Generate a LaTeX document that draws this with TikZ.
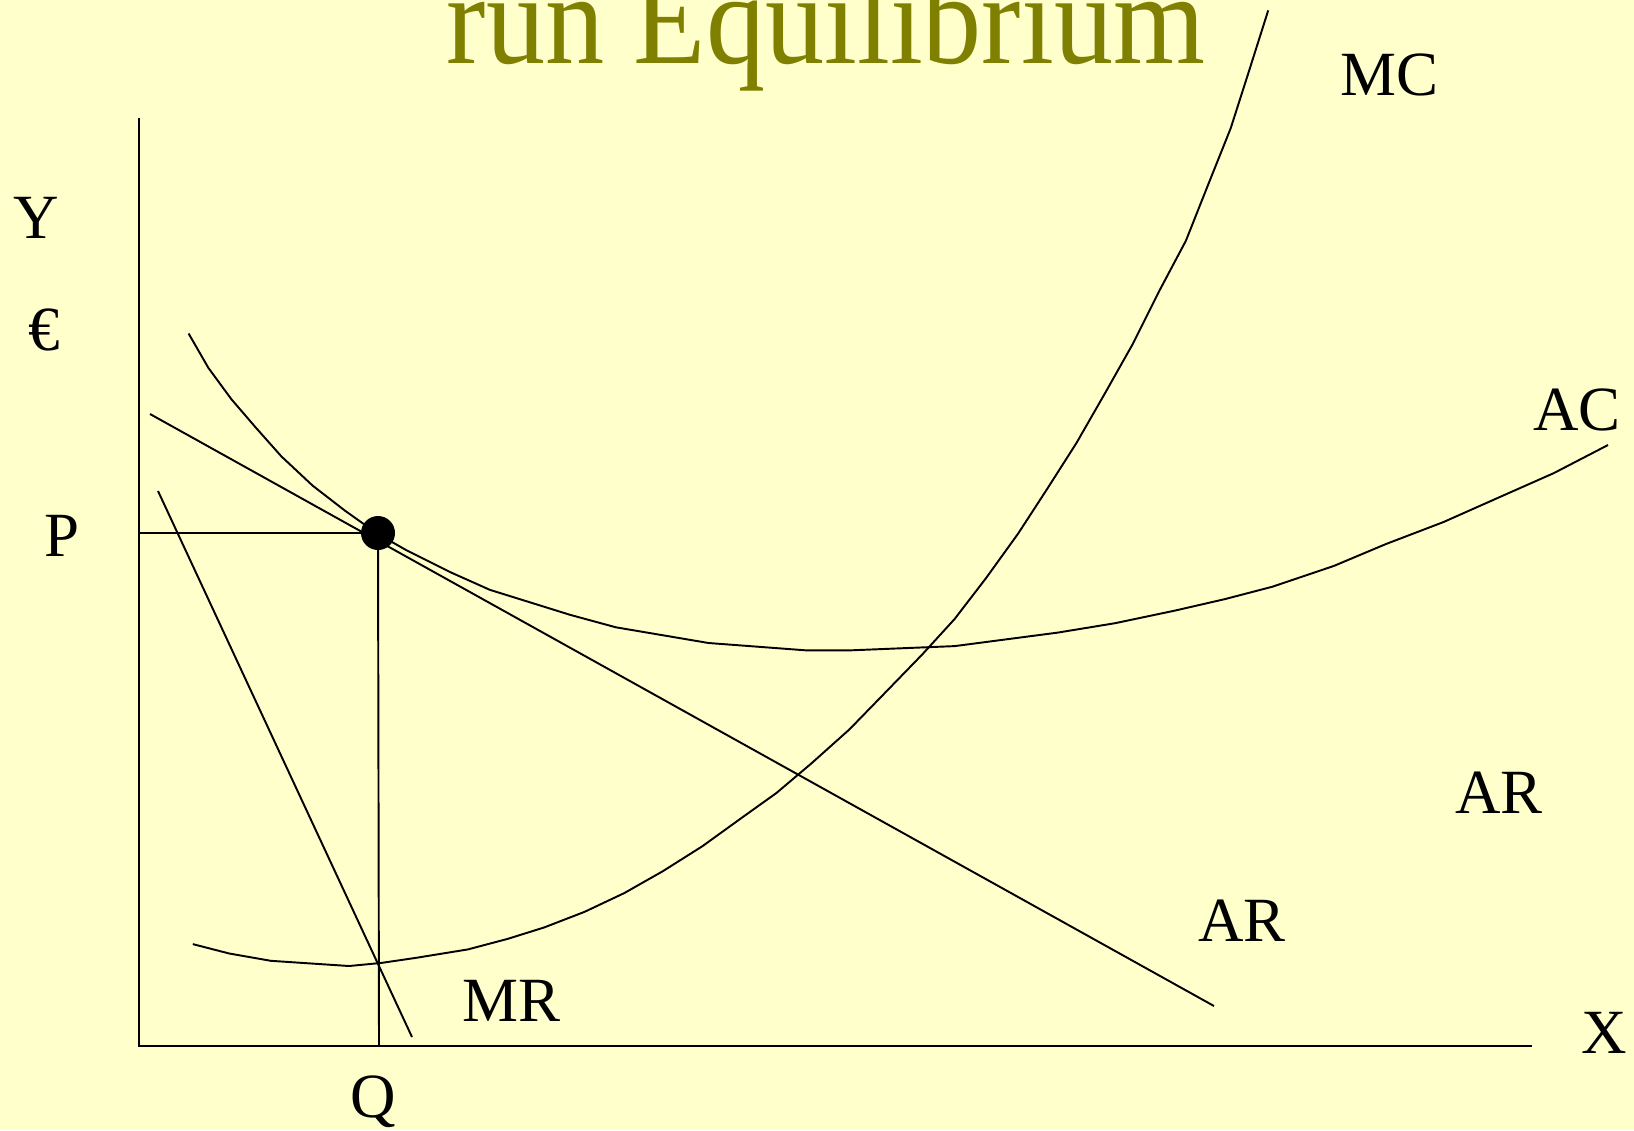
\documentclass[tikz,border=0pt]{standalone}
\usepackage{fontspec}
\setmainfont{Liberation Serif}
\definecolor{bgyellow}{HTML}{FFFFCC}
\definecolor{titleolive}{HTML}{808000}
\begin{document}
\begin{tikzpicture}[x=0.01cm,y=-0.01cm,
  curve/.style={line width=0.55pt, black, line join=round},
  axisline/.style={line width=0.7pt, black},
  lbl/.style={anchor=base, inner sep=0pt, font=\fontsize{17.9pt}{20pt}\selectfont},
  titletext/.style={anchor=base, inner sep=0pt, text=titleolive, font=\fontsize{33.6pt}{36pt}\selectfont}]
\fill[bgyellow] (0,0) rectangle (1634,1130);
\useasboundingbox (0,0) rectangle (1634,1130);
% title (cut off at the top edge, as in the reference)
\begin{scope}
\clip (0,0) rectangle (1634,1130);
\node[titletext] (title) at (826,63) {\scalebox{1}[1.1]{run Equilibrium}};
\end{scope}
% coordinates
\coordinate (O) at (139,1046);
\coordinate (ytop) at (139,118);
\coordinate (xend) at (1532,1046);
\coordinate (E) at (378,533);
\coordinate (Pleft) at (139,533);
\coordinate (Qfoot) at (379,1046);
\coordinate (ARs) at (150,414);
\coordinate (ARe) at (1214,1006);
\coordinate (MRs) at (158,491);
\coordinate (MRe) at (412,1037);
% axes
\draw[axisline] (ytop) -- (O) -- (xend);
% P and Q guides
\draw[curve] (Pleft) -- (E);
\draw[curve] (E) -- (Qfoot);
% AR and MR lines
\draw[curve] (ARs) -- (ARe);
\draw[curve] (MRs) -- (MRe);
% AC curve
\draw[curve] plot[sharp plot] coordinates {(188.6,333.5) (208.4,367.9) (231.3,399.1) (256.4,428.3) (281.4,456.4) (312.6,485.6) (344.9,510.6) (377.2,533.6) (406.4,550.2) (450.2,572.1) (489.8,589.8) (570.0,614.8) (615.9,627.3) (708.6,643.0) (805.5,650.3) (851.4,650.3) (954.6,646.1) (1057.7,632.6) (1115.0,623.2) (1174.4,610.7) (1224.5,599.2) (1272.4,586.7) (1333.9,565.9) (1386,544) (1443.3,522.1) (1499.6,497.1) (1553.8,473.1) (1608,445)};
% MC curve
\draw[curve] plot[sharp plot] coordinates {(192.8,944.1) (229.3,953.5) (270.9,960.8) (349.1,966.0) (381.4,962.9) (416.8,957.7) (467.9,949.4) (507.5,938.9) (544.0,927.5) (584.6,911.8) (624.2,893.1) (662.8,871.2) (702.4,846.2) (739.9,819.1) (776.4,793.0) (810.8,763.9) (849.3,729.5) (885.8,692.0) (922.3,654.4) (954.6,619.0) (985.8,578.4) (1018.1,533.6) (1047.3,488.7) (1076.5,442.9) (1104.6,393.9) (1132.8,343.9) (1158.8,291.8) (1185.9,240.7) (1207.8,185.5) (1230.7,128.2) (1248.4,72.9) (1268.2,10.4)};
% equilibrium dot
\fill[black] (E) circle[radius=17];
% labels
\node[lbl] (lMC) at (1389.5,95) {MC};
\node[lbl] (lAC) at (1577,430) {AC};
\node[lbl] (lAR1) at (1499,813) {AR};
\node[lbl] (lAR2) at (1242,941) {AR};
\node[lbl] (lMR) at (511.7,1021.7) {MR};
\node[lbl] (lQ) at (373,1117) {Q};
\node[lbl] (lX) at (1604,1053) {X};
\node[lbl] (lY) at (36.7,238) {Y};
\node[lbl] (lEuro) at (44,350) {€};
\node[lbl] (lP) at (61.7,556.7) {P};
\end{tikzpicture}
\end{document}
